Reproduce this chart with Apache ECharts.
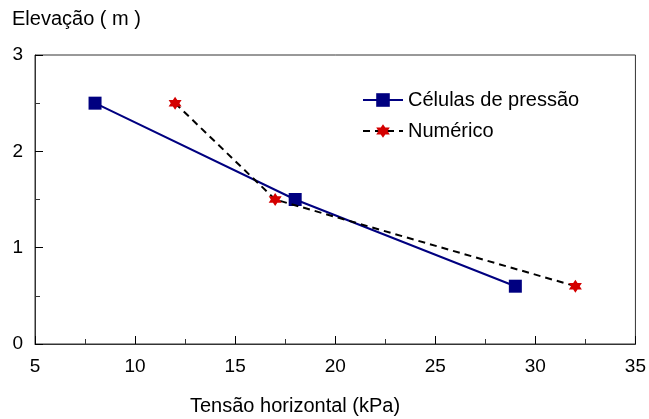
<!DOCTYPE html>
<html>
<head>
<meta charset="utf-8">
<script src="https://cdn.jsdelivr.net/npm/echarts@6/dist/echarts.min.js"></script>
<style>
  html, body { margin: 0; padding: 0; background: #fff; }
  #chart { width: 649px; height: 419px; }
</style>
</head>
<body>
<div id="chart"></div>
<script>
// data
var celulasX = [8, 18, 29];
var celulasY = [2.5, 1.5, 0.6];
var numericoX = [12, 17, 32];
var numericoY = [2.5, 1.5, 0.6];
var seriesNames = ['Células de pressão', 'Numérico'];

function pairs(xs, ys) {
    var out = [];
    for (var i = 0; i < xs.length; i++) {
        out.push([xs[i], ys[i]]);
    }
    return out;
}

// six pointed star for the numeric markers
function hexagram() {
    var pts = [];
    for (var k = 0; k < 12; k++) {
        var ang = (-90 + k * 30) * Math.PI / 180;
        var r = (k % 2 === 0) ? 10 : 5.8;
        pts.push((10 + r * Math.cos(ang)).toFixed(2) + ' ' + (10 + r * Math.sin(ang)).toFixed(2));
    }
    return 'path://M' + pts.join(' L') + ' Z';
}

var font = 'Liberation Sans, Arial, sans-serif';
var myChart = echarts.init(document.getElementById('chart'));
var option = {
    animation: false,
    textStyle: { fontFamily: font },
    grid: {
        left: 35, right: 9, top: 55, bottom: 75,
        show: true, borderColor: '#333', borderWidth: 1
    },
    legend: {
        orient: 'vertical',
        left: 357, top: 85,
        itemWidth: 40, itemHeight: 17, itemGap: 11,
        textStyle: { fontSize: 20, color: '#000', fontFamily: font },
        data: seriesNames
    },
    xAxis: {
        type: 'value',
        min: 5, max: 35, interval: 5,
        axisLine: { lineStyle: { color: '#333', width: 1 } },
        axisTick: { inside: true, length: 8, lineStyle: { color: '#000' } },
        minorTick: { show: true, splitNumber: 2, length: 5, lineStyle: { color: '#333' } },
        splitLine: { show: false },
        axisLabel: { fontSize: 19, color: '#000', margin: 13, fontFamily: font }
    },
    yAxis: {
        type: 'value',
        min: 0, max: 3, interval: 1,
        axisLine: { lineStyle: { color: '#333', width: 1 } },
        axisTick: { inside: true, length: 8, lineStyle: { color: '#000' } },
        minorTick: { show: true, splitNumber: 2, length: 5, lineStyle: { color: '#333' } },
        splitLine: { show: false },
        axisLabel: { fontSize: 19, color: '#000', margin: 12, fontFamily: font }
    },
    graphic: [
        {
            type: 'text', left: 12, top: 9,
            style: { text: 'Elevação ( m )', fontSize: 20, fill: '#000', fontFamily: font }
        },
        {
            type: 'text', left: 190, top: 396,
            style: { text: 'Tensão horizontal (kPa)', fontSize: 20, fill: '#000', fontFamily: font }
        }
    ],
    series: [
        {
            name: seriesNames[0],
            type: 'line',
            data: pairs(celulasX, celulasY),
            symbol: 'rect',
            symbolSize: 13,
            lineStyle: { color: '#000080', width: 2 },
            itemStyle: { color: '#000080' },
            z: 2
        },
        {
            name: seriesNames[1],
            type: 'line',
            data: pairs(numericoX, numericoY),
            symbol: hexagram(),
            symbolSize: 13,
            lineStyle: { color: '#000', width: 2, type: [7, 5] },
            itemStyle: { color: '#d40000' },
            z: 3
        }
    ]
};
myChart.setOption(option);
</script>
</body>
</html>
